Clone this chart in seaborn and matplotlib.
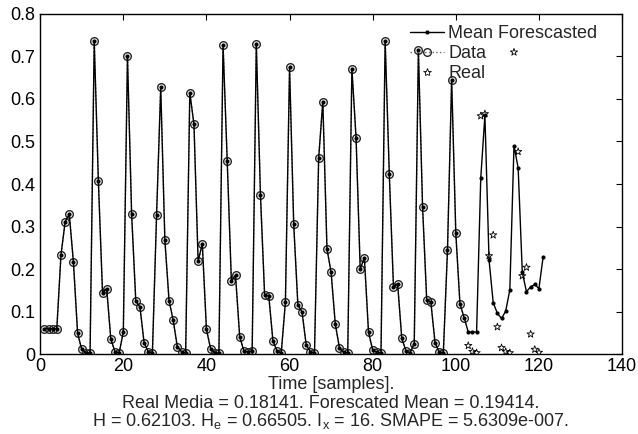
import numpy as np
import pandas as pd
import seaborn as sns
import matplotlib.pyplot as plt
from matplotlib.lines import Line2D
from matplotlib.ticker import FuncFormatter

# observed data (samples 1..102)
data_t = list(range(1, 103))
data_vals = [0.060, 0.060, 0.060, 0.060, 0.233, 0.311, 0.329, 0.216, 0.049, 0.011,
             0.003, 0.003, 0.737, 0.406, 0.144, 0.154, 0.035, 0.006, 0.003, 0.052,
             0.700, 0.329, 0.125, 0.111, 0.027, 0.006, 0.003, 0.326, 0.627, 0.268,
             0.126, 0.080, 0.017, 0.006, 0.003, 0.615, 0.540, 0.218, 0.260, 0.058,
             0.013, 0.003, 0.003, 0.727, 0.454, 0.172, 0.185, 0.041, 0.008, 0.005,
             0.008, 0.729, 0.373, 0.139, 0.137, 0.031, 0.007, 0.003, 0.122, 0.674,
             0.305, 0.116, 0.099, 0.022, 0.006, 0.003, 0.460, 0.594, 0.248, 0.192,
             0.071, 0.015, 0.005, 0.003, 0.671, 0.509, 0.200, 0.227, 0.051, 0.010,
             0.004, 0.003, 0.737, 0.423, 0.158, 0.166, 0.037, 0.008, 0.003, 0.025,
             0.714, 0.347, 0.127, 0.122, 0.027, 0.005, 0.003, 0.245, 0.645, 0.284,
             0.118, 0.086]

# forecast beyond the data (samples 103..121)
tail_t = list(range(103, 122))
tail_vals = [0.052, 0.052, 0.052, 0.413, 0.562, 0.221, 0.121, 0.096, 0.084, 0.101,
             0.151, 0.490, 0.438, 0.192, 0.147, 0.158, 0.164, 0.154, 0.228]

# real values (samples 103..120)
real_t = list(range(103, 121))
real_vals = [0.020, 0.006, 0.003, 0.560, 0.565, 0.231, 0.280, 0.064, 0.015, 0.006,
             0.003, 0.710, 0.476, 0.184, 0.204, 0.047, 0.011, 0.004]

xticks = [0, 20, 40, 60, 80, 100, 120, 140]
yticks = [0, 0.1, 0.2, 0.3, 0.4, 0.5, 0.6, 0.7, 0.8]

sns.set_style("white")
plt.rcParams['font.family'] = ['Liberation Sans', 'DejaVu Sans']
plt.rcParams['mathtext.fontset'] = 'custom'
plt.rcParams['mathtext.rm'] = 'Liberation Sans'
plt.rcParams['mathtext.it'] = 'Liberation Sans:italic'
FS = 13

fig = plt.figure(figsize=(6.38, 4.34), dpi=100)
ax = fig.add_axes([0.063, 0.184, 0.912, 0.784])

data_df = pd.DataFrame({'t': data_t, 'v': data_vals})
fc_df = pd.DataFrame({'t': data_t + tail_t, 'v': data_vals + tail_vals})
real_df = pd.DataFrame({'t': real_t, 'v': real_vals})

sns.lineplot(data=data_df, x='t', y='v', ax=ax, color='0.4', linestyle=':', lw=1.0,
             marker='o', markersize=5.5, markerfacecolor='none', markeredgecolor='0.15',
             markeredgewidth=1.0)
sns.lineplot(data=fc_df, x='t', y='v', ax=ax, color='k', lw=1.0,
             marker='o', markersize=3, markeredgewidth=0)
sns.scatterplot(data=real_df, x='t', y='v', ax=ax, marker='*', s=30,
                facecolor='none', edgecolor='k', linewidth=0.6)

ax.set_xlim(0, 140)
ax.set_ylim(0, 0.8)
ax.set_xticks(xticks)
ax.set_yticks(yticks)
ax.yaxis.set_major_formatter(FuncFormatter(lambda v, p: '%g' % v))
ax.tick_params(direction='in', top=True, right=True, length=4, width=0.8,
               labelsize=FS, colors='k')
ax.tick_params(axis='y', pad=3.5)
ax.tick_params(axis='x', pad=3)
for s in ax.spines.values():
    s.set_color('k')
    s.set_linewidth(1.0)

ax.set_ylabel('')
ax.set_xlabel('')
fig.text(0.519, 0.113, 'Time [samples].', fontsize=FS, ha='center', va='center')
fig.text(0.519, 0.071, 'Real Media = 0.18141. Forescated Mean = 0.19414.',
         fontsize=FS, ha='center', va='center')
fig.text(0.519, 0.030,
         r'H = 0.62103. H$_\mathrm{e}$ = 0.66505. I$_\mathrm{x}$ = 16. SMAPE = 5.6309e-007.',
         fontsize=FS, ha='center', va='center')

handles = [
    Line2D([], [], color='k', lw=1.0, marker='o', markersize=3, markeredgewidth=0),
    Line2D([], [], color='0.4', ls=':', lw=1.0, marker='o', markersize=5.5,
           markerfacecolor='none', markeredgecolor='0.15'),
    Line2D([], [], ls='none', marker='*', markersize=6, markerfacecolor='none',
           markeredgecolor='k', markeredgewidth=0.6),
]
ax.legend(handles, ['Mean Forescasted', 'Data', 'Real'], loc='upper left',
          bbox_to_anchor=(0.636, 0.967), frameon=False, fontsize=FS, numpoints=1,
          handlelength=1.85, handletextpad=0.25, labelspacing=0.16, borderpad=0,
          borderaxespad=0)

fig.savefig('out.png', dpi=100)
